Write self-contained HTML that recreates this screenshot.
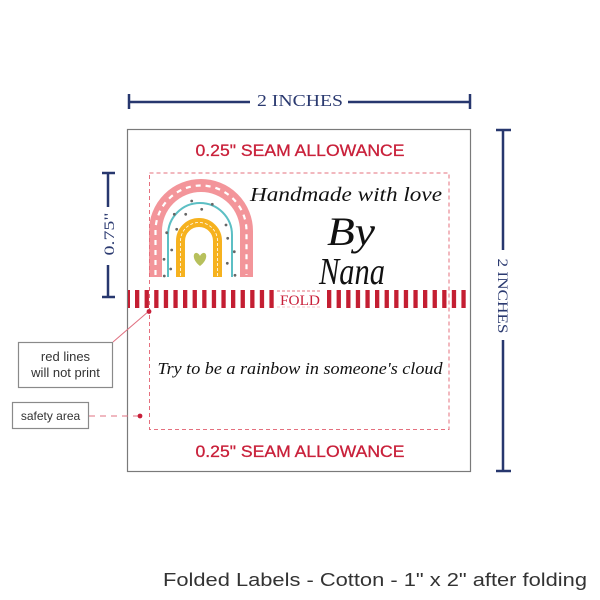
<!DOCTYPE html>
<html><head><meta charset="utf-8"><style>
html,body{margin:0;padding:0;background:#fff;}
svg{display:block;}
</style></head><body>
<svg width="600" height="600" viewBox="0 0 600 600" xmlns="http://www.w3.org/2000/svg">
<defs>
<pattern id="stripes" patternUnits="userSpaceOnUse" x="135" y="0" width="9.6" height="600">
<rect x="0" y="0" width="4.3" height="600" fill="#c41e32"/>
</pattern>
</defs>
<rect width="600" height="600" fill="#fff"/>

<!-- top dimension -->
<g stroke="#27376e" stroke-width="2.5" fill="none">
<line x1="129" y1="102" x2="250" y2="102"/>
<line x1="348" y1="102" x2="470" y2="102"/>
<line x1="129" y1="94" x2="129" y2="109"/>
<line x1="470" y1="94" x2="470" y2="109"/>
<line x1="503" y1="130" x2="503" y2="250"/>
<line x1="503" y1="340" x2="503" y2="471"/>
<line x1="496" y1="130" x2="511" y2="130"/>
<line x1="496" y1="471" x2="511" y2="471"/>
<line x1="108" y1="173" x2="108" y2="207"/>
<line x1="108" y1="265" x2="108" y2="297"/>
<line x1="102" y1="173" x2="115" y2="173"/>
<line x1="102" y1="297" x2="115" y2="297"/>
</g>
<text x="300" y="106" text-anchor="middle" font-family="Liberation Serif, serif" font-size="17" fill="#2b3a70" textLength="86" lengthAdjust="spacingAndGlyphs">2 INCHES</text>
<text transform="translate(498,296) rotate(90)" x="0" y="0" text-anchor="middle" font-family="Liberation Serif, serif" font-size="15" fill="#2b3a70" textLength="75" lengthAdjust="spacingAndGlyphs">2 INCHES</text>
<text transform="translate(114,234) rotate(-90)" x="0" y="0" text-anchor="middle" font-family="Liberation Serif, serif" font-size="15" fill="#2b3a70" textLength="43" lengthAdjust="spacingAndGlyphs">0.75"</text>

<!-- label rect -->
<rect x="127.5" y="129.5" width="343" height="342" fill="#fff" stroke="#7a7a7a" stroke-width="1.2"/>

<!-- callout leader lines -->
<line x1="113" y1="342" x2="149" y2="311" stroke="#e07080" stroke-width="1"/>
<line x1="89" y1="416" x2="139" y2="416" stroke="#e07080" stroke-width="1" stroke-dasharray="6 5"/>

<!-- seam allowance texts -->
<text x="300" y="156" text-anchor="middle" font-family="Liberation Sans, sans-serif" font-size="17" fill="#c9203a" stroke="#c9203a" stroke-width="0.3" textLength="209" lengthAdjust="spacingAndGlyphs">0.25" SEAM ALLOWANCE</text>
<text x="300" y="457" text-anchor="middle" font-family="Liberation Sans, sans-serif" font-size="17" fill="#c9203a" stroke="#c9203a" stroke-width="0.3" textLength="209" lengthAdjust="spacingAndGlyphs">0.25" SEAM ALLOWANCE</text>

<!-- rainbow -->
<path d="M155.5,277 L155.5,231 A45.5,45.5 0 0 1 246.5,231 L246.5,277" fill="none" stroke="#f3959a" stroke-width="13"/>
<path d="M155.5,275 L155.5,231 A45.5,45.5 0 0 1 246.5,231 L246.5,275" fill="none" stroke="#fff" stroke-width="2.2" stroke-dasharray="5 5"/>
<path d="M168,277 L168,235 A32,32 0 0 1 232,235 L232,277" fill="none" stroke="#5cbfc4" stroke-width="2"/>
<path d="M180.5,277 L180.5,241 A18.5,18.5 0 0 1 217.5,241 L217.5,277" fill="none" stroke="#f6b21f" stroke-width="9"/>
<path d="M180.5,276 L180.5,241 A18.5,18.5 0 0 1 217.5,241 L217.5,276" fill="none" stroke="#fff" stroke-width="0.8" stroke-dasharray="3 2"/>
<path d="M200,266 C192,260 192.5,252 197,253 C199,253.5 200,256 200,256 C200,256 201,253.5 203,253 C207.5,252 208,260 200,266 Z" fill="#b7c05c"/>
<g fill="#666">
<circle cx="191.7" cy="201" r="1.4"/><circle cx="212.3" cy="204.3" r="1.4"/><circle cx="201.7" cy="209.3" r="1.4"/>
<circle cx="174.3" cy="214.3" r="1.4"/><circle cx="185.7" cy="214.3" r="1.4"/><circle cx="226" cy="225" r="1.4"/>
<circle cx="166.7" cy="232.7" r="1.4"/><circle cx="176.7" cy="229.3" r="1.4"/><circle cx="227.7" cy="238.3" r="1.4"/>
<circle cx="171.7" cy="250" r="1.4"/><circle cx="234.3" cy="251.7" r="1.4"/><circle cx="164" cy="259.3" r="1.4"/>
<circle cx="170.7" cy="269" r="1.4"/><circle cx="227.3" cy="263.3" r="1.4"/><circle cx="164.3" cy="276" r="1.4"/>
<circle cx="235" cy="275.3" r="1.4"/>
</g>

<!-- script texts -->
<text x="346" y="201" text-anchor="middle" font-family="Liberation Serif, serif" font-style="italic" font-size="20" fill="#111" textLength="192" lengthAdjust="spacingAndGlyphs">Handmade with love</text>
<text x="351" y="245" text-anchor="middle" font-family="Liberation Serif, serif" font-style="italic" font-size="40" fill="#111" textLength="48" lengthAdjust="spacingAndGlyphs">By</text>
<text x="352" y="284" text-anchor="middle" font-family="Liberation Serif, serif" font-style="italic" font-size="38" fill="#111" textLength="66" lengthAdjust="spacingAndGlyphs">Nana</text>
<text x="300" y="374" text-anchor="middle" font-family="Liberation Serif, serif" font-style="italic" font-size="17" fill="#111" textLength="285" lengthAdjust="spacingAndGlyphs">Try to be a rainbow in someone's cloud</text>

<!-- stripes band -->
<rect x="128" y="290" width="342" height="18" fill="url(#stripes)"/>
<rect x="128" y="290" width="2" height="18" fill="#c41e32"/>
<!-- FOLD box -->
<rect x="277" y="289" width="45" height="20" fill="#fff"/>
<line x1="277" y1="291" x2="322" y2="291" stroke="#e5707e" stroke-width="1" stroke-dasharray="3 2"/>
<line x1="277" y1="307" x2="322" y2="307" stroke="#f3c0c6" stroke-width="1" stroke-dasharray="3 2"/>
<text x="300" y="305" text-anchor="middle" font-family="Liberation Serif, serif" font-size="15" fill="#c9203a" textLength="40" lengthAdjust="spacingAndGlyphs">FOLD</text>

<!-- safety dashed rect -->
<rect x="149.5" y="173" width="299.5" height="256.5" fill="none" stroke="#e5707e" stroke-width="1" stroke-dasharray="4 3"/>

<!-- callout dots -->
<circle cx="149" cy="311.5" r="2.4" fill="#c8203a"/>
<circle cx="140" cy="416" r="2.4" fill="#c8203a"/>

<!-- callout boxes -->
<rect x="18.5" y="342.5" width="94" height="45" fill="#fff" stroke="#8a8a8a" stroke-width="1.2"/>
<text x="65.5" y="361" text-anchor="middle" font-family="Liberation Sans, sans-serif" font-size="13" fill="#333">red lines</text>
<text x="65.5" y="377" text-anchor="middle" font-family="Liberation Sans, sans-serif" font-size="13" fill="#333">will not print</text>
<rect x="12.5" y="402.5" width="76" height="26" fill="#fff" stroke="#8a8a8a" stroke-width="1.2"/>
<text x="50.5" y="420" text-anchor="middle" font-family="Liberation Sans, sans-serif" font-size="12" fill="#333">safety area</text>

<!-- caption -->
<text x="375" y="586" text-anchor="middle" font-family="Liberation Sans, sans-serif" font-size="18" fill="#333" textLength="424" lengthAdjust="spacingAndGlyphs">Folded Labels - Cotton - 1" x 2" after folding</text>
</svg>
</body></html>
